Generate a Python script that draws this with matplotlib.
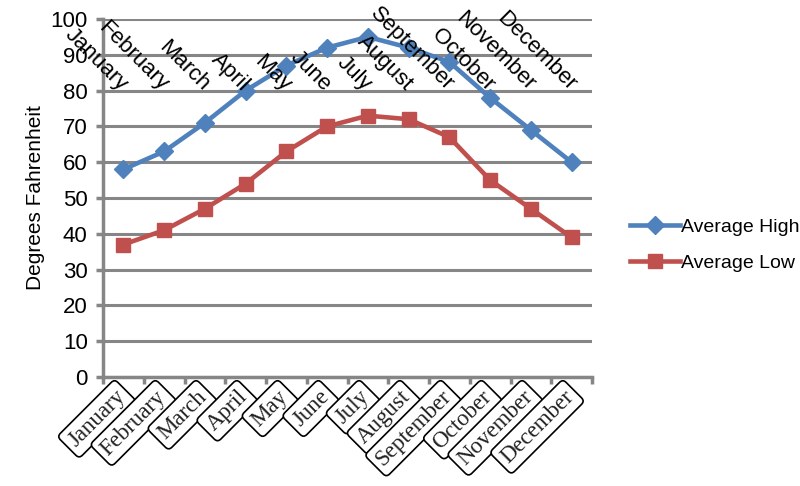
import matplotlib
matplotlib.use("Agg")
import matplotlib.pyplot as plt
import numpy as np

months = ["January", "February", "March", "April", "May", "June", "July",
          "August", "September", "October", "November", "December"]
avg_high = [58, 63, 71, 80, 87, 92, 95, 92, 88, 78, 69, 60]
avg_low = [37, 41, 47, 54, 63, 70, 73, 72, 67, 55, 47, 39]
yticks = list(range(0, 101, 10))

BLUE = "#4F81BD"
RED = "#C0504D"
GRAY = "#868686"

fig = plt.figure(figsize=(8, 4.86), dpi=100)
ax = fig.add_axes([103/800, 1-377/486, (592-103)/800, (377-19)/486])

x = np.arange(len(months))
lh, = ax.plot(x, avg_high, color=BLUE, lw=3.3, marker="D", ms=9, label="Average High", zorder=3)
ll, = ax.plot(x, avg_low, color=RED, lw=3.3, marker="s", ms=10, label="Average Low", zorder=3)

ax.set_xlim(-0.5, len(months)-0.5)
ax.set_ylim(0, 100)
ax.set_yticks(yticks)
ax.yaxis.grid(True, color=GRAY, lw=2.2)
ax.set_axisbelow(True)
for s in ["top", "right"]:
    ax.spines[s].set_visible(False)
for s in ["left", "bottom"]:
    ax.spines[s].set_color(GRAY)
    ax.spines[s].set_linewidth(2.5)
ax.tick_params(axis="y", colors=GRAY, width=2.5, length=5, labelcolor="black",
               labelsize=16, pad=6)
ax.set_xticks(np.arange(-0.5, len(months), 1.0))
ax.set_xticklabels([])
ax.tick_params(axis="x", colors=GRAY, width=2.5, length=5)
for lab in ax.get_yticklabels():
    lab.set_fontfamily("Liberation Sans")
ax.set_ylabel("Degrees Fahrenheit", fontsize=15, fontfamily="Liberation Sans", labelpad=4)

# Bottom boxed labels
for i, m in enumerate(months):
    ax.annotate(m, xy=(i, 0), xycoords="data", xytext=(-1, -12), textcoords="offset points",
                rotation=45, rotation_mode="anchor", ha="right", va="center",
                fontsize=16.5, fontfamily="Liberation Serif", color="#222222",
                bbox=dict(boxstyle="round,pad=0.22,rounding_size=0.2", fc="white", ec="black", lw=1.2),
                annotation_clip=False)

# Top reflected-style labels
for i, m in enumerate(months):
    ax.text(i + 0.2, 82.8, m, rotation=-45, rotation_mode="anchor", ha="right", va="top",
            fontsize=16, fontfamily="Liberation Sans", color="black", zorder=4)

fig.legend(handles=[lh, ll], loc="center left", bbox_to_anchor=(622/800, 1-245/486),
           frameon=False, prop={"family": "Liberation Sans", "size": 14},
           handlelength=2.6, labelspacing=0.95, handletextpad=0.05, borderaxespad=0)

fig.savefig("out.png", dpi=100)
